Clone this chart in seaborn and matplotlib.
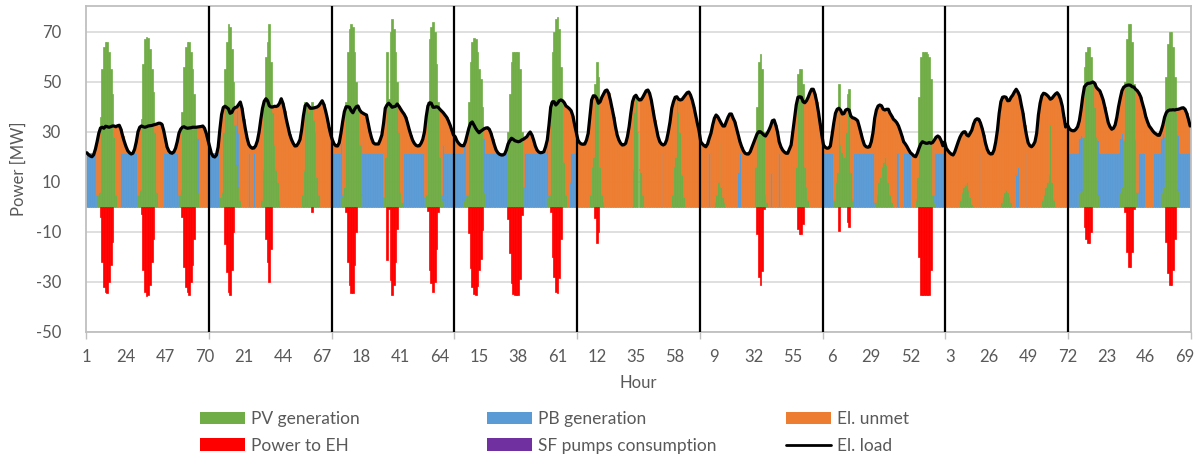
import numpy as np
import pandas as pd
import matplotlib
matplotlib.use("Agg")
import matplotlib.pyplot as plt
import seaborn as sns
from matplotlib.patches import Patch
from matplotlib.lines import Line2D

# ---------------- Hourly values ----------------
# nine 72-hour periods, one line per 24 hours

load_p1 = [
    21.7, 20.9, 20.4, 20.1, 20.9, 23.1, 26.1, 29.5, 31.6, 31.9, 31.5, 32.3, 32.1, 31.9, 32.1, 32.4, 32.4, 32.1, 32.5, 32.7, 31.1, 28.4, 26.1, 24.1,
    22.5, 21.7, 21.2, 21.5, 23.1, 26.1, 30.1, 31.9, 32.4, 32.1, 31.9, 32.1, 32.4, 32.5, 32.6, 32.8, 33.0, 33.2, 33.5, 33.5, 33.1, 30.8, 27.5, 24.1,
    22.5, 21.7, 21.5, 22.0, 23.5, 26.1, 29.5, 31.1, 31.9, 32.1, 31.7, 31.5, 31.6, 31.7, 31.9, 31.9, 31.9, 32.0, 32.1, 32.2, 32.4, 31.5, 29.5, 26.8]
pv_p1 = [
    0, 0, 0, 0, 0, 0, 5, 6, 36, 55, 64, 66, 66, 62, 55, 45, 28, 5, 0, 0, 0, 0, 0, 0,
    0, 0, 0, 0, 0, 0, 5, 7, 35, 57, 67, 68, 67.5, 63, 55, 46, 30, 6, 0, 0, 0, 0, 0, 0,
    0, 0, 0, 0, 0, 0, 5, 7, 38, 56, 64, 66, 66, 62, 55, 45, 32, 6, 0, 0, 0, 0, 0, 0]
pb_p1 = [
    21.7, 21.7, 21.7, 21.7, 21.7, 21.7, 0, 0, 0, 0, 0, 0, 0, 0, 0, 0, 0, 0, 0, 0, 21.7, 21.7, 21.7, 21.7,
    21.7, 21.7, 21.7, 21.7, 21.7, 21.7, 0, 0, 0, 0, 0, 0, 0, 0, 0, 0, 0, 0, 0, 0, 0, 21.7, 21.7, 21.7,
    21.7, 21.7, 21.7, 21.7, 21.7, 21.7, 0, 0, 0, 0, 0, 0, 0, 0, 0, 0, 0, 21.7, 0, 0, 0, 0, 0, 0]
eh_p1 = [
    0, 0, 0, 0, 0, 0, 0, 0, -4, -22, -32, -34, -34.5, -30, -23, -14, 0, 0, 0, 0, 0, 0, 0, 0,
    0, 0, 0, 0, 0, 0, 0, 0, -3, -25, -34, -35.5, -35, -31, -22, -13, 0, 0, 0, 0, 0, 0, 0, 0,
    0, 0, 0, 0, 0, 0, 0, 0, -4, -24, -32, -34, -35, -30, -23, -13, 0, 0, 0, 0, 0, 0, 0, 0]

load_p2 = [
    24.0, 21.5, 20.3, 20.0, 20.8, 24.0, 31.0, 37.0, 39.8, 40.3, 39.8, 39.3, 37.5, 37.8, 39.2, 39.8, 40.0, 41.0, 42.0, 39.5, 35.0, 31.0, 27.5, 25.0,
    24.0, 23.5, 23.6, 24.5, 26.5, 30.0, 35.0, 39.5, 42.3, 43.3, 42.5, 40.5, 40.0, 40.0, 40.3, 40.2, 40.5, 41.5, 43.3, 41.5, 38.5, 35.0, 32.0, 29.0,
    27.0, 25.5, 24.4, 24.5, 25.5, 27.0, 31.0, 36.5, 40.5, 41.3, 40.5, 39.5, 39.5, 39.6, 39.8, 40.0, 40.5, 41.5, 42.5, 41.0, 38.5, 35.5, 32.0, 29.0]
pv_p2 = [
    0, 0, 0, 0, 0, 0, 4, 6, 30, 55, 66, 73, 72, 63, 50, 33, 17, 8, 3, 0, 0, 0, 0, 0,
    0, 0, 0, 0, 0, 0, 3, 15, 42, 60, 66, 73, 58, 38, 25, 15, 10, 3, 0, 0, 0, 0, 0, 0,
    0, 0, 0, 0, 0, 0, 5, 15, 42, 41, 38, 40, 42, 35, 30, 12, 5, 0, 0, 0, 0, 0, 0, 0]
pb_p2 = [
    21.7, 21.7, 21.7, 21.7, 21.7, 21.7, 0, 0, 0, 0, 0, 0, 0, 0, 0, 0, 21.7, 21.7, 0, 0, 0, 0, 0, 21.7,
    0, 0, 21.7, 0, 0, 0, 0, 0, 0, 0, 0, 0, 0, 0, 0, 0, 0, 0, 0, 0, 0, 0, 0, 0,
    0, 0, 0, 0, 0, 0, 0, 0, 0, 0, 0, 0, 0, 0, 0, 0, 0, 0, 0, 0, 0, 0, 0, 0]
eh_p2 = [
    0, 0, 0, 0, 0, 0, 0, 0, 0, -15, -26, -34, -35, -25, -10, 0, 0, 0, 0, 0, 0, 0, 0, 0,
    0, 0, 0, 0, 0, 0, 0, 0, 0, -13, -22, -30, -17, 0, 0, 0, 0, 0, 0, 0, 0, 0, 0, 0,
    0, 0, 0, 0, 0, 0, 0, 0, 0, 0, 0, 0, -2, 0, 0, 0, 0, 0, 0, 0, 0, 0, 0, 0]

load_p3 = [
    26.8, 25.2, 24.5, 24.4, 25.7, 29.5, 34.1, 38.1, 40.1, 40.1, 39.9, 38.5, 37.7, 39.1, 40.1, 40.4, 38.8, 37.9, 37.5, 37.1, 36.8, 33.5, 30.1, 27.5,
    25.7, 25.2, 25.2, 25.2, 26.8, 28.8, 33.5, 39.5, 40.8, 41.5, 40.8, 39.9, 40.1, 40.3, 41.2, 40.3, 39.2, 38.1, 37.2, 35.9, 33.7, 31.1, 28.8, 26.8,
    25.5, 24.7, 24.4, 24.5, 25.5, 27.1, 30.1, 36.1, 40.4, 41.7, 41.5, 39.9, 39.9, 40.1, 39.9, 39.1, 38.4, 37.7, 36.8, 35.9, 34.5, 32.8, 30.8, 28.8]
pv_p3 = [
    0, 0, 0, 0, 0, 4, 5, 8, 42, 62, 71, 73, 72, 62, 50, 40, 25, 5, 0, 0, 0, 0, 0, 0,
    0, 0, 0, 0, 0, 0, 4, 20, 62, 43, 70, 75, 71, 62, 50, 30, 6, 2, 0, 0, 0, 0, 0, 0,
    0, 0, 0, 0, 0, 0, 4, 5, 42, 67, 72, 74, 70, 57, 42, 20, 5, 3, 0, 0, 0, 0, 0, 0]
pb_p3 = [
    21.7, 21.7, 21.7, 21.7, 21.7, 21.7, 0, 0, 0, 0, 0, 0, 0, 0, 0, 0, 0, 21.7, 21.7, 21.7, 21.7, 21.7, 21.7, 21.7,
    21.7, 21.7, 21.7, 21.7, 21.7, 21.7, 0, 0, 0, 0, 0, 0, 0, 0, 0, 0, 0, 0, 21.7, 21.7, 21.7, 21.7, 21.7, 21.7,
    21.7, 21.7, 21.7, 21.7, 21.7, 21.7, 0, 0, 0, 0, 0, 0, 0, 0, 0, 0, 0, 21.7, 21.7, 21.7, 21.7, 21.7, 21.7, 21.7]
eh_p3 = [
    0, 0, 0, 0, 0, 0, 0, 0, -2, -22, -31, -34.5, -34.3, -23, -10, 0, 0, 0, 0, 0, 0, 0, 0, 0,
    0, 0, 0, 0, 0, 0, 0, 0, -21, -1, -29, -35, -31, -22, -9, 0, 0, 0, 0, 0, 0, 0, 0, 0,
    0, 0, 0, 0, 0, 0, 0, 0, -1.6, -25, -30.5, -34, -30, -17, -2, 0, 0, 0, 0, 0, 0, 0, 0, 0]

load_p4 = [
    28.1, 26.5, 25.5, 24.8, 24.5, 24.5, 26.1, 28.8, 31.5, 33.5, 34.0, 32.8, 31.5, 30.5, 29.7, 30.3, 30.8, 31.3, 31.6, 31.7, 31.1, 29.5, 27.1, 24.8,
    22.8, 21.7, 21.1, 20.8, 20.8, 21.2, 22.8, 25.2, 26.5, 27.5, 27.1, 26.5, 26.3, 26.1, 26.3, 26.8, 27.1, 27.6, 28.1, 29.2, 30.0, 28.8, 26.8, 24.4,
    22.8, 22.0, 21.7, 21.8, 22.1, 24.1, 26.8, 32.8, 39.9, 42.1, 42.1, 40.8, 41.5, 42.5, 42.8, 42.5, 41.7, 40.4, 39.9, 39.3, 38.5, 36.5, 33.0, 30.0]
pv_p4 = [
    0, 0, 0, 0, 0, 3, 4, 5, 42, 58, 66, 67.5, 67, 62, 55, 51, 40, 6, 0, 0, 0, 0, 0, 0,
    0, 0, 0, 0, 0, 0, 0, 30, 45, 58, 62, 62, 62, 62, 55, 30, 8, 0, 0, 0, 0, 0, 0, 0,
    0, 0, 0, 0, 0, 0, 4, 5, 42, 62, 70, 75, 76, 71, 56, 42, 18, 5, 0, 0, 0, 0, 0, 0]
pb_p4 = [
    21.7, 21.7, 21.7, 21.7, 21.7, 21.7, 21.7, 0, 0, 0, 0, 0, 0, 0, 0, 0, 0, 21.7, 21.7, 21.7, 21.7, 21.7, 21.7, 21.7,
    21.7, 21.7, 21.7, 21.7, 21.7, 21.7, 21.7, 0, 0, 0, 0, 0, 0, 0, 0, 0, 0, 21.7, 21.7, 21.7, 21.7, 21.7, 21.7, 21.7,
    21.7, 21.7, 21.7, 21.7, 21.7, 21.7, 21.7, 0, 0, 0, 0, 0, 0, 0, 0, 0, 0, 0, 0, 10, 21.7, 21.7, 21.7, 21.7]
eh_p4 = [
    0, 0, 0, 0, 0, 0, 0, 0, -10.5, -24.5, -32, -34.7, -35, -31.5, -25.3, -20.7, -9.2, 0, 0, 0, 0, 0, 0, 0,
    0, 0, 0, 0, 0, 0, 0, -5, -18.5, -30.5, -34.9, -35, -35, -35, -28.7, -3.2, 0, 0, 0, 0, 0, 0, 0, 0,
    0, 0, 0, 0, 0, 0, 0, 0, -2, -20, -28, -34, -34.5, -28.5, -13, 0, 0, 0, 0, 0, 0, 0, 0, 0]

load_p5 = [
    26.8, 25.7, 25.2, 25.1, 25.2, 26.8, 29.5, 36.1, 42.8, 44.5, 44.4, 43.5, 41.5, 42.1, 43.9, 45.2, 46.5, 46.8, 45.5, 42.8, 39.5, 36.1, 32.1, 28.8,
    26.8, 25.5, 24.8, 24.9, 25.5, 28.1, 32.1, 37.5, 42.1, 44.1, 44.7, 43.5, 42.8, 42.9, 43.9, 45.2, 46.5, 46.8, 45.5, 42.8, 38.8, 34.8, 31.5, 28.1,
    26.1, 25.2, 24.8, 25.2, 26.8, 30.1, 34.1, 39.5, 42.1, 43.9, 44.1, 43.1, 42.8, 43.0, 43.9, 44.8, 45.7, 46.0, 44.8, 42.8, 40.1, 36.8, 33.5, 30.5]
pv_p5 = [
    0, 0, 0, 0, 0, 0, 0, 5, 16, 20, 49, 58, 52, 16, 5, 2, 0, 0, 0, 0, 0, 0, 0, 0,
    0, 0, 0, 0, 0, 0, 0, 0, 15, 38, 44, 30, 15, 14, 5, 0, 0, 0, 0, 0, 0, 0, 0, 0,
    0, 0, 0, 0, 0, 0, 0, 5, 16, 20, 43, 38, 30, 13, 4, 0, 0, 0, 0, 0, 0, 0, 0, 0]
pb_p5 = [
    0, 0, 0, 0, 0, 0, 0, 0, 0, 0, 0, 0, 0, 0, 0, 0, 0, 0, 0, 0, 0, 0, 0, 0,
    0, 0, 0, 0, 0, 0, 0, 0, 0, 0, 0, 0, 0, 0, 0, 0, 0, 0, 0, 0, 0, 0, 0, 0,
    0, 21.7, 0, 0, 0, 0, 0, 0, 0, 0, 0, 0, 0, 0, 0, 0, 0, 0, 0, 0, 0, 0, 0, 0]
eh_p5 = [
    0, 0, 0, 0, 0, 0, 0, 0, 0, 0, -4.5, -14.5, -10, 0, 0, 0, 0, 0, 0, 0, 0, 0, 0, 0,
    0, 0, 0, 0, 0, 0, 0, 0, 0, 0, 0, 0, 0, 0, 0, 0, 0, 0, 0, 0, 0, 0, 0, 0,
    0, 0, 0, 0, 0, 0, 0, 0, 0, 0, 0, 0, 0, 0, 0, 0, 0, 0, 0, 0, 0, 0, 0, 0]

load_p6 = [
    26.1, 25.2, 24.5, 24.1, 25.2, 27.5, 29.5, 32.8, 35.5, 36.8, 36.1, 34.8, 33.5, 32.4, 32.4, 34.1, 35.9, 37.2, 37.2, 35.5, 34.1, 31.5, 28.8, 26.1,
    24.1, 22.5, 21.5, 21.2, 21.2, 22.1, 23.9, 25.7, 27.5, 29.2, 30.1, 30.1, 29.5, 28.8, 28.4, 29.5, 30.8, 32.4, 34.5, 34.8, 32.8, 30.1, 26.1, 24.1,
    22.8, 22.0, 21.5, 21.5, 23.1, 24.8, 30.1, 35.5, 40.8, 43.9, 44.1, 43.9, 42.1, 41.7, 42.5, 43.9, 45.7, 47.1, 47.1, 45.2, 42.1, 38.1, 33.5, 28.8]
pv_p6 = [
    0, 0, 0, 0, 0, 0, 0, 0, 2, 5, 10, 26, 8, 4, 2, 0, 0, 0, 0, 0, 0, 0, 0, 0,
    0, 0, 0, 0, 0, 0, 0, 0, 16, 40, 58, 61, 55, 30, 5, 2, 0, 0, 0, 0, 0, 0, 0, 0,
    0, 0, 0, 0, 0, 0, 0, 0, 16, 53, 55, 55, 49, 16, 8, 3, 0, 0, 0, 0, 0, 0, 0, 0]
pb_p6 = [
    0, 0, 0, 0, 0, 21.7, 0, 0, 0, 0, 0, 0, 0, 0, 0, 0, 0, 0, 0, 0, 0, 0, 14, 21.7,
    0, 0, 0, 0, 0, 0, 0, 0, 0, 0, 0, 0, 0, 0, 0, 0, 0, 13.5, 0, 0, 0, 0, 21.7, 0,
    0, 0, 0, 0, 0, 0, 0, 0, 0, 0, 0, 0, 0, 0, 0, 0, 0, 0, 0, 0, 0, 0, 0, 0]
eh_p6 = [
    0, 0, 0, 0, 0, 0, 0, 0, 0, 0, 0, 0, 0, 0, 0, 0, 0, 0, 0, 0, 0, 0, 0, 0,
    0, 0, 0, 0, 0, 0, 0, 0, 0, -11, -28, -31, -25.5, -1, 0, 0, 0, 0, 0, 0, 0, 0, 0, 0,
    0, 0, 0, 0, 0, 0, 0, 0, 0, -9, -11, -11, -7, 0, 0, 0, 0, 0, 0, 0, 0, 0, 0, 0]

load_p7 = [
    24.8, 23.9, 23.5, 23.6, 24.4, 28.8, 33.5, 37.5, 39.1, 39.5, 38.8, 37.2, 37.4, 38.8, 39.1, 38.8, 36.4, 35.7, 35.5, 35.1, 34.5, 32.1, 29.5, 26.8,
    24.8, 24.1, 23.9, 24.1, 26.1, 29.7, 35.5, 38.8, 40.4, 40.8, 40.5, 39.1, 38.8, 39.1, 39.1, 37.5, 36.4, 35.1, 34.5, 33.7, 32.4, 30.5, 28.4, 26.1,
    25.2, 24.1, 22.8, 21.7, 21.1, 20.4, 20.1, 21.5, 23.5, 25.2, 26.1, 25.8, 25.5, 25.5, 25.8, 25.5, 25.8, 26.8, 27.9, 28.4, 27.9, 26.5, 24.5, 26.0]
pv_p7 = [
    0, 0, 0, 0, 0, 0, 3, 10, 14, 49, 25, 22, 20, 30, 45, 47, 14, 3, 0, 0, 0, 0, 0, 0,
    0, 0, 0, 0, 0, 0, 2, 5, 10, 12, 16, 18, 20, 17, 10, 5, 2, 0, 0, 0, 0, 0, 0, 0,
    0, 0, 0, 0, 0, 0, 3, 12, 44, 60, 62, 62, 62, 61, 60, 51, 5, 2, 0, 0, 0, 0, 0, 0]
pb_p7 = [
    21.7, 21.7, 21.7, 21.7, 21.7, 21.7, 0, 0, 0, 0, 0, 0, 0, 0, 0, 0, 0, 0, 21.7, 21.7, 21.7, 21.7, 21.7, 21.7,
    21.7, 21.7, 21.7, 21.7, 21.7, 21.7, 0, 0, 0, 0, 0, 0, 0, 0, 0, 0, 0, 0, 0, 21.7, 21.7, 0, 0, 21.7,
    21.7, 21.7, 21.7, 21.7, 0, 0, 0, 0, 0, 0, 0, 0, 0, 0, 0, 0, 0, 21.7, 21.7, 21.7, 21.7, 21.7, 21.7, 21.7]
eh_p7 = [
    0, 0, 0, 0, 0, 0, 0, 0, 0, -9.5, 0, 0, 0, 0, -6, -8, 0, 0, 0, 0, 0, 0, 0, 0,
    0, 0, 0, 0, 0, 0, 0, 0, 0, 0, 0, 0, 0, 0, 0, 0, 0, 0, 0, 0, 0, 0, 0, 0,
    0, 0, 0, 0, 0, 0, 0, 0, -20, -35, -35, -35, -35, -35, -35, -25, 0, 0, 0, 0, 0, 0, 0, 0]

load_p8 = [
    23.5, 22.5, 21.7, 21.1, 20.8, 22.1, 24.1, 26.1, 27.9, 29.2, 30.0, 30.1, 28.8, 28.4, 29.5, 30.8, 33.2, 34.8, 35.3, 35.1, 33.7, 31.5, 28.8, 25.5,
    23.1, 21.7, 21.2, 21.3, 22.8, 26.1, 30.8, 37.5, 42.1, 43.9, 44.1, 43.9, 42.5, 42.6, 43.9, 44.8, 46.1, 47.1, 46.0, 44.4, 40.8, 37.5, 32.8, 28.8,
    25.7, 24.5, 24.1, 24.8, 26.1, 29.5, 36.8, 41.5, 44.4, 45.5, 45.3, 44.8, 44.1, 43.1, 43.5, 44.4, 45.2, 45.7, 44.8, 43.1, 40.4, 36.0, 32.0, 33.0]
pv_p8 = [
    0, 0, 0, 0, 0, 0, 0, 0, 3, 6, 8, 9, 10, 7, 4, 1, 0, 0, 0, 0, 0, 0, 0, 0,
    0, 0, 0, 0, 0, 0, 0, 0, 2, 4, 6, 7, 6, 4, 2, 0, 0, 0, 0, 0, 0, 0, 0, 0,
    0, 0, 0, 0, 0, 0, 0, 0, 3, 5, 8, 10, 13, 33, 10, 3, 0, 0, 0, 0, 0, 0, 0, 0]
pb_p8 = [
    0, 0, 0, 0, 0, 0, 0, 0, 0, 0, 0, 0, 0, 0, 0, 0, 0, 0, 0, 0, 21.7, 0, 0, 0,
    0, 0, 0, 0, 0, 0, 0, 0, 0, 0, 0, 0, 0, 0, 0, 0, 0, 13, 16, 0, 0, 0, 0, 21.7,
    0, 0, 0, 0, 0, 0, 0, 0, 0, 0, 0, 0, 0, 0, 0, 0, 0, 0, 0, 0, 0, 0, 0, 0]
eh_p8 = [
    0, 0, 0, 0, 0, 0, 0, 0, 0, 0, 0, 0, 0, 0, 0, 0, 0, 0, 0, 0, 0, 0, 0, 0,
    0, 0, 0, 0, 0, 0, 0, 0, 0, 0, 0, 0, 0, 0, 0, 0, 0, 0, 0, 0, 0, 0, 0, 0,
    0, 0, 0, 0, 0, 0, 0, 0, 0, 0, 0, 0, 0, 0, 0, 0, 0, 0, 0, 0, 0, 0, 0, 0]

load_p9 = [
    31.5, 30.8, 30.5, 30.5, 31.1, 32.1, 34.5, 38.8, 44.1, 48.1, 48.9, 49.5, 49.5, 49.7, 50.0, 49.5, 47.9, 47.1, 46.5, 44.8, 42.8, 39.9, 36.8, 33.7,
    32.1, 31.1, 31.5, 32.8, 35.9, 40.1, 43.5, 46.5, 47.9, 48.4, 48.7, 48.8, 48.7, 48.1, 48.0, 47.1, 46.5, 45.5, 44.1, 41.5, 39.1, 36.1, 34.1, 32.4,
    31.5, 30.5, 29.7, 29.2, 28.7, 28.7, 30.5, 32.8, 35.9, 37.7, 38.5, 38.8, 38.8, 38.9, 38.8, 39.0, 39.1, 39.3, 39.6, 39.7, 39.1, 37.5, 35.1, 32.4]
pv_p9 = [
    0, 0, 0, 0, 0, 0, 6, 7, 28, 56, 62, 64, 64, 60, 50, 40, 28, 5, 0, 0, 0, 0, 0, 0,
    0, 0, 0, 0, 0, 0, 6, 8, 27, 50, 67, 73, 73, 66, 49, 27, 6, 0, 0, 0, 0, 0, 0, 0,
    0, 0, 0, 0, 0, 0, 6, 8, 28, 52, 65, 70, 70, 64, 52, 38, 7, 0, 0, 0, 0, 0, 0, 0]
pb_p9 = [
    21.7, 21.7, 21.7, 21.7, 21.7, 21.7, 21.7, 21.7, 0, 0, 0, 0, 0, 0, 0, 0, 0, 21.7, 21.7, 21.7, 21.7, 21.7, 21.7, 21.7,
    21.7, 21.7, 21.7, 21.7, 21.7, 21.7, 21.7, 21.7, 0, 0, 0, 0, 0, 0, 0, 0, 0, 21.7, 21.7, 21.7, 21.7, 0, 0, 0,
    0, 0, 21.7, 21.7, 21.7, 21.7, 21.7, 21.7, 0, 0, 0, 0, 0, 0, 0, 0, 21.7, 21.7, 21.7, 21.7, 21.7, 21.7, 21.7, 21.7]
eh_p9 = [
    0, 0, 0, 0, 0, 0, 0, 0, 0, -8, -13, -14.5, -14.5, -10, 0, 0, 0, 0, 0, 0, 0, 0, 0, 0,
    0, 0, 0, 0, 0, 0, 0, 0, 0, -2, -18, -24, -24, -18, -1, 0, 0, 0, 0, 0, 0, 0, 0, 0,
    0, 0, 0, 0, 0, 0, 0, 0, 0, -14, -26.5, -31, -31, -25, -13, 0, 0, 0, 0, 0, 0, 0, 0, 0]

hour_labels = ["1", "24", "47", "70", "21", "44", "67", "18", "41", "64", "15", "38", "61",
               "12", "35", "58", "9", "32", "55", "6", "29", "52", "3", "26", "49", "72",
               "23", "46", "69"]
series_names = ["PV generation", "PB generation", "El. unmet",
                "Power to EH", "SF pumps consumption", "El. load"]
series_colors = ["#70AD47", "#5B9BD5", "#ED7D31", "#FF0000", "#7030A0", "#000000"]
y_ticks = [-50, -30, -10, 10, 30, 50, 70]

# ---------------- assemble ----------------
load = np.array(load_p1 + load_p2 + load_p3 + load_p4 + load_p5 + load_p6 + load_p7 + load_p8 + load_p9, dtype=float)
pv = np.array(pv_p1 + pv_p2 + pv_p3 + pv_p4 + pv_p5 + pv_p6 + pv_p7 + pv_p8 + pv_p9, dtype=float)
pb = np.array(pb_p1 + pb_p2 + pb_p3 + pb_p4 + pb_p5 + pb_p6 + pb_p7 + pb_p8 + pb_p9, dtype=float)
eh = np.array(eh_p1 + eh_p2 + eh_p3 + eh_p4 + eh_p5 + eh_p6 + eh_p7 + eh_p8 + eh_p9, dtype=float)
unmet = np.clip(load - pv - pb, 0, None)   # unmet load = load not covered by PV + PB
n = len(load)
period = 72
hour = np.arange(1, n + 1)

pos_df = pd.concat([
    pd.DataFrame({"hour": hour, "series": series_names[0], "value": pv}),
    pd.DataFrame({"hour": hour, "series": series_names[1], "value": pb}),
    pd.DataFrame({"hour": hour, "series": series_names[2], "value": unmet}),
], ignore_index=True)
neg_df = pd.DataFrame({"hour": hour, "value": eh})
palette = dict(zip(series_names, series_colors))

# ---------------- plot ----------------
sns.set_theme(style="white")
plt.rcParams["font.family"] = ["Lato", "DejaVu Sans"]
txt_col = "#595959"

W, H = 1202, 459
fig = plt.figure(figsize=(W / 100, H / 100), dpi=100)
L, R, T, B = 86, 1191, 6, 332
ax = fig.add_axes([L / W, 1 - B / H, (R - L) / W, (B - T) / H])

sns.histplot(data=pos_df, x="hour", weights="value", hue="series",
             hue_order=[series_names[2], series_names[1], series_names[0]],
             multiple="stack", discrete=True, shrink=1.0, palette=palette,
             linewidth=0, alpha=1, legend=False, ax=ax)
sns.histplot(data=neg_df, x="hour", weights="value", discrete=True, shrink=1.0,
             color=series_colors[3], linewidth=0, alpha=1, ax=ax)
# solid bars: edge in the bar's own colour, hide empty bars
for p in ax.patches:
    if abs(p.get_height()) < 1e-9:
        p.set_visible(False)
    else:
        p.set_edgecolor(p.get_facecolor())
        p.set_linewidth(0.5)
        p.set_zorder(2)

sns.lineplot(x=hour, y=load, color="black", linewidth=2.3, ax=ax, zorder=4)

for k in range(1, n // period):
    ax.axvline(k * period + 0.5, color="black", linewidth=1.6, zorder=5)

ax.set_xlim(0.5, n + 0.5)
ax.set_ylim(-50, 80.4)
ax.set_yticks(y_ticks)
ax.set_yticklabels([str(v) for v in y_ticks])
ax.set_xticks([1 + 23 * i for i in range(len(hour_labels))])
ax.set_xticklabels(hour_labels)
ax.set_xticks([0.5 + period * k for k in range(n // period + 1)], minor=True)
ax.tick_params(axis="x", which="major", length=0, pad=12, labelsize=12, labelcolor=txt_col)
ax.tick_params(axis="x", which="minor", length=5, width=1, color="#bfbfbf", direction="out", bottom=True)
ax.tick_params(axis="y", length=0, pad=18, labelsize=12, labelcolor=txt_col)
ax.yaxis.grid(True, color="#d9d9d9", linewidth=1.2, zorder=0)
ax.xaxis.grid(False)
ax.set_axisbelow(True)
for s in ax.spines.values():
    s.set_color("#bfbfbf")
    s.set_linewidth(1.3)
ax.set_xlabel("")
ax.set_ylabel("")

fig.text(19 / W, 1 - 169 / H, "Power [MW]", rotation=90, ha="center", va="center",
         fontsize=12, color=txt_col)
fig.text((L + R) / 2 / W, 1 - 383 / H, "Hour", ha="center", va="center",
         fontsize=12, color=txt_col)

# legend: three columns of two entries
handles = [Patch(facecolor=series_colors[i], edgecolor="none") for i in range(5)]
handles.append(Line2D([0], [0], color="black", linewidth=2))
col_x = [200, 487, 786]
pairs = [(0, 3), (1, 4), (2, 5)]
for cx, (a, b) in zip(col_x, pairs):
    fig.legend(handles=[handles[a], handles[b]], labels=[series_names[a], series_names[b]],
               loc="upper left", bbox_to_anchor=(cx / W, 1 - 411 / H), frameon=False,
               fontsize=12.5, handlelength=2.6, handleheight=0.75, handletextpad=0.35,
               labelspacing=0.62, borderpad=0, borderaxespad=0, labelcolor=txt_col)

fig.savefig("out.png", dpi=100)
